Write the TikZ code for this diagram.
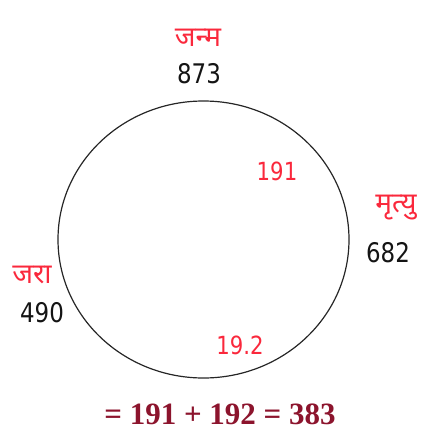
\documentclass[tikz,border=0pt]{standalone}
\usepackage{fontspec}
\usetikzlibrary{shapes.geometric}
\newfontfamily\numfont[FakeStretch=0.85]{DejaVu Sans}
\newfontfamily\devfont[Script=Devanagari]{Noto Sans}
\newfontfamily\eqfont{Liberation Serif}
\definecolor{lblred}{RGB}{250,40,60}
\definecolor{eqred}{RGB}{140,20,45}
\definecolor{numblack}{RGB}{20,20,20}
\tikzset{
  cyc/.style={draw=black!85, line width=1.2pt, ellipse, inner sep=0pt},
  devlbl/.style={inner sep=0pt, text=lblred, font=\devfont\fontsize{28}{30}\selectfont},
  numlbl/.style={inner sep=0pt, text=numblack, font=\numfont\fontsize{27}{30}\selectfont},
  rednum/.style={inner sep=0pt, text=lblred, font=\numfont\fontsize{25}{28}\selectfont},
  eqlbl/.style={inner sep=0pt, text=eqred, font=\eqfont\bfseries\fontsize{31}{34}\selectfont}
}
\begin{document}
\begin{tikzpicture}[x=1pt,y=-1pt]
\useasboundingbox (0,0) rectangle (424,431);
\node[cyc, minimum width=291pt, minimum height=277pt] (ring) at (203.5,239.5) {};
\node[devlbl] (janma) at (198,38) {जन्म};
\node[numlbl] (n873) at (199,74) {873};
\node[devlbl] (mrityu) at (396,208) {मृत्यु};
\node[numlbl] (n682) at (388,253) {682};
\node[devlbl] (jara) at (32,275) {जरा};
\node[numlbl] (n490) at (42,313) {490};
\node[rednum] (n191) at (277,171) {191};
\node[rednum] (n192) at (240,345) {19.2};
\node[eqlbl] (eq) at (220,414) {= 191 + 192 = 383};
\end{tikzpicture}
\end{document}
